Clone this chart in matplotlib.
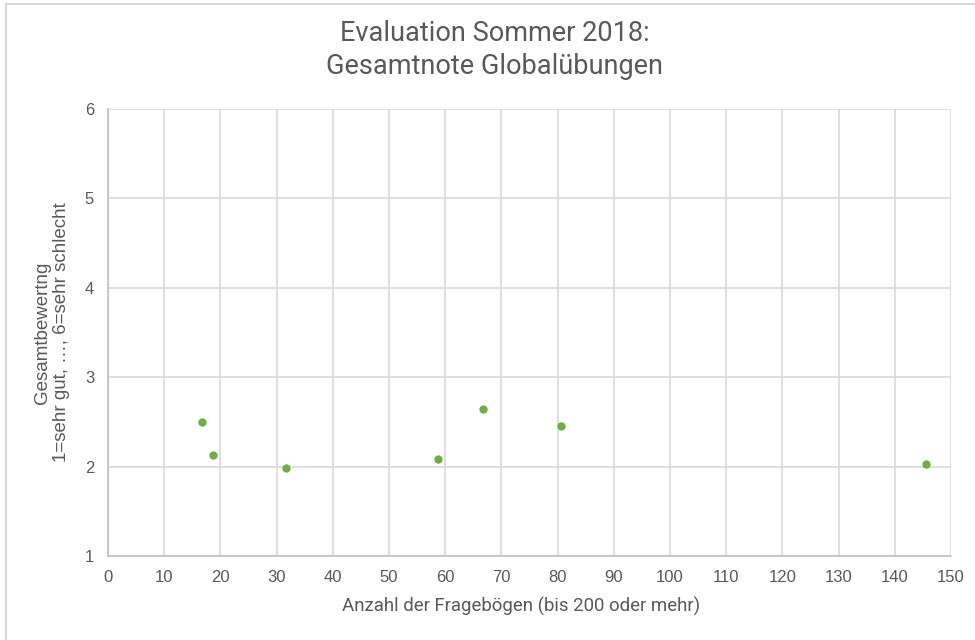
import matplotlib
matplotlib.use('Agg')
import matplotlib.pyplot as plt
from matplotlib.lines import Line2D

# Anzahl Fragebögen / Gesamtnote
anzahl = [16.7, 18.7, 31.6, 58.8, 66.7, 80.6, 145.6]
note = [2.50, 2.13, 1.98, 2.09, 2.64, 2.45, 2.03]

x_ticks = list(range(0, 151, 10))
y_ticks = [1, 2, 3, 4, 5, 6]

grey_text = '#595959'
green = '#70AD47'

fig = plt.figure(figsize=(9.75, 6.4), dpi=100)
ax = fig.add_axes([108 / 975, 1 - 556 / 640, (951 - 108) / 975, (556 - 109) / 640])

ax.scatter(anzahl, note, s=36, color=green, zorder=3, linewidths=0)

ax.set_xlim(0, 150)
ax.set_ylim(1, 6)
ax.set_xticks(x_ticks)
ax.set_yticks(y_ticks)
ax.grid(True, color='#D9D9D9', linewidth=1.2)
ax.set_axisbelow(True)
for side in ['top', 'right']:
    ax.spines[side].set_visible(False)
for side in ['left', 'bottom']:
    ax.spines[side].set_color('#BFBFBF')
    ax.spines[side].set_linewidth(1.2)
ax.tick_params(length=0, labelsize=12, labelcolor=grey_text)
ax.tick_params(axis='y', pad=10)
ax.tick_params(axis='x', pad=10)
for lab in ax.get_xticklabels() + ax.get_yticklabels():
    lab.set_fontfamily('Liberation Sans')

ax.set_xlabel('Anzahl der Fragebögen (bis 200 oder mehr)', fontsize=13.4,
              color=grey_text, family='Roboto', va='center')
ax.xaxis.set_label_coords((521 - 108) / 843, (556 - 606) / 447)
ax.set_ylabel('Gesamtbewertng\n1=sehr gut, …, 6=sehr schlecht', fontsize=13.5,
              color=grey_text, family='Liberation Sans', va='center', linespacing=1.1)
ax.yaxis.set_label_coords((52 - 108) / 843, 0.5)

fig.text(495 / 975, 1 - 50 / 640, 'Evaluation Sommer 2018:\nGesamtnote Globalübungen',
         ha='center', va='center', fontsize=19.5, color=grey_text, family='Roboto',
         linespacing=1.25)

# Rahmen oben und links
fig.add_artist(Line2D([6 / 975, 1], [1 - 4 / 640, 1 - 4 / 640], color='#D9D9D9', linewidth=1.5))
fig.add_artist(Line2D([6 / 975, 6 / 975], [0, 1 - 4 / 640], color='#D9D9D9', linewidth=1.5))

fig.savefig('out.png', dpi=100)
